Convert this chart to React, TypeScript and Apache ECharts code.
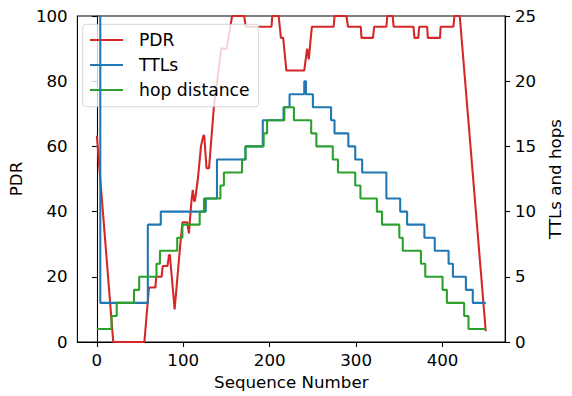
import React, { useEffect, useRef } from "react";
import * as echarts from "echarts";

const xTicks = [0, 100, 200, 300, 400];
const seriesNames = ["PDR", "TTLs", "hop distance"];

// PDR (%) vertices: [sequence number, PDR]
const pdrPoints: [number, number][] = [
  [0, 63.3], [19, 0], [55, 0], [60.3, 16.7], [67.7, 16.7], [68.8, 20], [75, 20],
  [76.2, 23.3], [81.7, 23.3], [83.6, 26.7], [84.5, 26.7], [90, 10], [96.6, 30],
  [99.1, 36.7], [104.7, 36.7], [106.5, 33.3], [109.5, 43.3], [111, 46.7],
  [112.5, 43.3], [113.5, 43.3], [116.9, 50], [120.5, 60], [123.2, 63.3],
  [124.3, 63.3], [126.9, 53.3], [129.8, 53.3], [135.4, 72], [143.9, 90],
  [150.2, 90], [156.5, 100], [170.5, 100], [172.3, 96.7], [202.1, 96.7],
  [203, 100], [210.4, 100], [213, 93.3], [215.6, 93.3], [219.3, 83.3],
  [240, 83.3], [243.3, 90], [245.2, 86.7], [248.8, 96.7], [274, 96.7],
  [275.1, 100], [288.8, 100], [290.6, 96.7], [305.4, 96.7], [306.2, 93.3],
  [319.5, 93.3], [320.9, 96.7], [335, 96.7], [336.1, 100], [342.3, 100],
  [343.4, 96.7], [366.4, 96.7], [367.5, 93.3], [371.9, 93.3], [373, 96.7],
  [382.2, 96.7], [383, 93.3], [397.1, 93.3], [397.8, 96.7], [412.6, 96.7],
  [413.7, 100], [419.9, 100], [450, 3.3],
];

// TTL steps: [sequence number where value starts, TTL]
const ttlSteps: [number, number][] = [
  [0, 64], [4, 3], [59, 9], [74, 10], [126, 11], [139, 14], [172, 15], [192, 17],
  [216, 18], [223, 19], [240, 20], [242, 19], [250, 18], [271, 17], [275, 16],
  [291, 15], [299, 14], [307, 13], [335, 11], [351, 10], [359, 9], [379, 8],
  [391, 7], [407, 6], [412, 5], [427, 4], [435, 3], [450, 3],
];

// hop distance steps: [sequence number where value starts, hops]
const hopSteps: [number, number][] = [
  [0, 1], [17, 2], [23, 3], [43, 4], [49, 5], [69, 6], [73, 7], [93, 8], [99, 9],
  [119, 10], [124, 11], [143, 12], [147, 13], [168, 14], [172, 15], [193, 16],
  [197, 17], [217, 18], [228, 17], [248, 16], [254, 15], [273, 14], [279, 13],
  [299, 12], [305, 11], [324, 10], [330, 9], [350, 8], [354, 7], [375, 6],
  [380, 5], [400, 4], [405, 3], [425, 2], [430, 1], [450, 1],
];

export default function App() {
  const ref = useRef<HTMLDivElement>(null);
  useEffect(() => {
    const chart = echarts.init(ref.current!, null, { renderer: "svg" });
    const font = "'DejaVu Sans', sans-serif";
    const fs = 16.67;
    const lw = 2.08;
    const tick = { show: true, inside: false, length: 4.9, lineStyle: { color: "#000", width: 1.1 } };
    const axisLine = { show: true, lineStyle: { color: "#000", width: 1.1 } };
    const label = { color: "#000", fontSize: fs, fontFamily: font, margin: 9.7 };
    const nameStyle = { color: "#000", fontSize: fs, fontFamily: font };
    chart.setOption({
      animation: false,
      backgroundColor: "#fff",
      grid: {
        left: 74.3, right: 51.3, top: 16, bottom: 48,
        show: true, borderColor: "#000", borderWidth: 1.1, backgroundColor: "transparent",
      },
      legend: {
        orient: "vertical",
        left: 82.7,
        top: 24.3,
        z: 3,
        padding: [5.7, 9, 6.7, 7.3],
        itemGap: 5,
        itemWidth: 33,
        itemHeight: 2,
        icon: "rect",
        backgroundColor: "rgba(255,255,255,0.8)",
        borderColor: "rgba(204,204,204,0.8)",
        borderWidth: 1,
        borderRadius: 3,
        selectedMode: false,
        textStyle: { color: "#000", fontSize: 17.2, fontFamily: font, lineHeight: 20, padding: [0, 0, 0, 11] },
        data: seriesNames,
      },
      xAxis: {
        type: "value",
        min: -22.5,
        max: 472.5,
        name: "Sequence Number",
        nameLocation: "middle",
        nameGap: 32,
        nameTextStyle: nameStyle,
        splitLine: { show: false },
        axisLine,
        axisTick: { ...tick, customValues: xTicks },
        axisLabel: { ...label, customValues: xTicks },
      },
      yAxis: [
        {
          type: "value",
          min: 0,
          max: 100,
          interval: 20,
          position: "left",
          name: "PDR",
          nameLocation: "middle",
          nameRotate: 90,
          nameGap: 48,
          nameTextStyle: nameStyle,
          splitLine: { show: false },
          axisLine,
          axisTick: tick,
          axisLabel: label,
        },
        {
          type: "value",
          min: 0,
          max: 25,
          interval: 5,
          position: "right",
          name: "TTLs and hops",
          nameLocation: "middle",
          nameRotate: 90,
          nameGap: 37,
          nameTextStyle: nameStyle,
          splitLine: { show: false },
          axisLine,
          axisTick: tick,
          axisLabel: label,
        },
      ],
      series: [
        {
          name: seriesNames[0],
          type: "line",
          yAxisIndex: 0,
          data: pdrPoints,
          symbol: "none",
          color: "#d62728",
          lineStyle: { width: lw, color: "#d62728" },
          z: 2,
          clip: true,
        },
        {
          name: seriesNames[1],
          type: "line",
          yAxisIndex: 1,
          step: "end",
          data: ttlSteps,
          symbol: "none",
          color: "#1f77b4",
          lineStyle: { width: lw, color: "#1f77b4" },
          z: 5,
          clip: true,
        },
        {
          name: seriesNames[2],
          type: "line",
          yAxisIndex: 1,
          step: "end",
          data: hopSteps,
          symbol: "none",
          color: "#2ca02c",
          lineStyle: { width: lw, color: "#2ca02c" },
          z: 5,
          clip: true,
        },
      ],
    });
    return () => chart.dispose();
  }, []);
  return (
    <div
      ref={ref}
      style={{ position: "fixed", left: 0, top: 0, width: 572, height: 396, background: "#fff" }}
    />
  );
}
